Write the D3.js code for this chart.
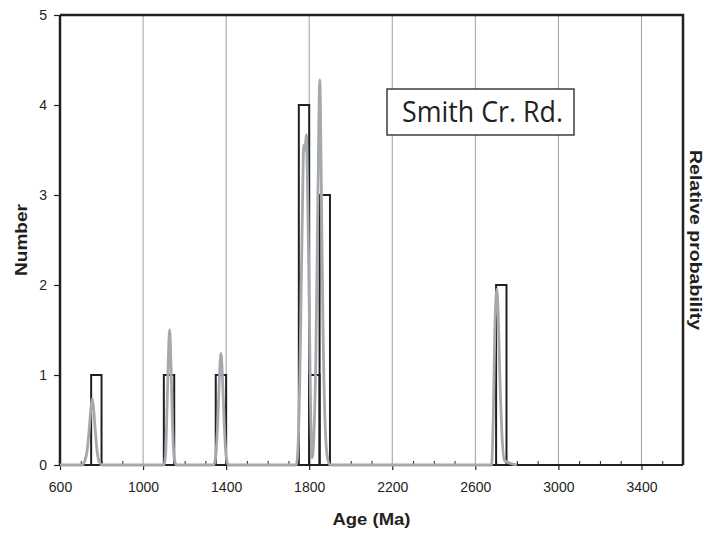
<!DOCTYPE html>
<html>
<head>
<meta charset="utf-8">
<script src="https://cdn.jsdelivr.net/npm/d3@7"></script>
<style>
    body { margin: 0; background: #fff; }
</style>
</head>
<body>
<svg id="chart" width="704" height="533"></svg>
<script>
// histogram bins (start age, Ma) and counts, bin width 50 Ma
const binStarts = [750, 1100, 1350, 1750, 1800, 1850, 2700];
const binCounts = [1, 1, 1, 4, 1, 3, 2];
const binWidth = 50;

// relative probability curve (in "Number" units)
const curveAges = [600, 705, 720, 730, 740, 748, 755, 762, 770, 780, 790, 805,
    1100, 1108, 1115, 1122, 1128, 1134, 1141, 1150, 1160,
    1340, 1350, 1360, 1368, 1375, 1382, 1390, 1400, 1410,
    1738, 1748, 1758, 1767, 1774, 1780, 1786, 1792, 1800, 1807, 1814,
    1822, 1832, 1842, 1851, 1858, 1866, 1876, 1888, 1900,
    2678, 2686, 2694, 2703, 2710, 2718, 2728, 2740, 2800];
const curveValues = [0, 0, 0.05, 0.15, 0.38, 0.6, 0.74, 0.62, 0.38, 0.13, 0.03, 0,
    0, 0.1, 0.6, 1.2, 1.5, 1.15, 0.5, 0.08, 0,
    0, 0.1, 0.5, 1.0, 1.24, 1.0, 0.5, 0.1, 0,
    0, 0.3, 1.4, 2.8, 3.55, 3.5, 3.67, 3.1, 1.8, 0.6, 0.08,
    0.3, 1.2, 3.0, 4.28, 3.2, 1.6, 0.5, 0.08, 0,
    0, 0.5, 1.5, 1.95, 1.7, 1.0, 0.35, 0.05, 0];

const xMajorTicks = [600, 1000, 1400, 1800, 2200, 2600, 3000, 3400];
const gridAges = [1000, 1400, 1800, 2200, 2600, 3000, 3400];
const yTicks = [0, 1, 2, 3, 4, 5];
const title = 'Smith Cr. Rd.';

const margin = { top: 15, left: 60, bottom: 68, right: 21 };
const width = 704;
const height = 533;
const chartWidth = width - margin.left - margin.right;
const chartHeight = height - margin.top - margin.bottom;
const dark = '#231f20';
const sans = '"Liberation Sans", Arial, sans-serif';

const svg = d3.select('#chart');
svg.append('rect').attr('width', width).attr('height', height).attr('fill', '#fff');

const x = d3.scaleLinear().domain([600, 3600]).range([0, chartWidth]);
const y = d3.scaleLinear().domain([0, 5]).range([chartHeight, 0]);

const g = svg.append('g').attr('transform', `translate(${[margin.left, margin.top]})`);

// vertical grid
g.append('g')
    .selectAll('line')
    .data(gridAges)
    .join('line')
    .attr('x1', d => x(d))
    .attr('x2', d => x(d))
    .attr('y1', 0)
    .attr('y2', chartHeight)
    .attr('stroke', '#7a8894')
    .attr('stroke-width', 0.8);

// minor ticks every 100 Ma, pointing in
const minorTicks = d3.range(700, 3600, 100).filter(d => !xMajorTicks.includes(d));
g.append('g')
    .attr('transform', `translate(0, ${chartHeight})`)
    .call(d3.axisBottom(x).tickValues(minorTicks).tickSize(-4).tickFormat(''))
    .call(a => a.select('.domain').remove())
    .call(a => a.selectAll('line').attr('stroke', dark).attr('stroke-width', 1));

// major x axis
const xAxis = g.append('g')
    .attr('transform', `translate(0, ${chartHeight})`)
    .call(d3.axisBottom(x).tickValues(xMajorTicks).tickSize(5).tickPadding(12).tickFormat(d3.format('d')));
xAxis.select('.domain').attr('stroke', dark).attr('stroke-width', 2).attr('d', `M0,0H${chartWidth}`);
xAxis.selectAll('line').attr('stroke', dark).attr('stroke-width', 1.2);
xAxis.selectAll('text').attr('font-size', 14).attr('font-family', sans).attr('fill', dark);

// y axis
const yAxis = g.append('g')
    .call(d3.axisLeft(y).tickValues(yTicks).tickSize(6).tickPadding(7).tickFormat(d3.format('d')));
yAxis.select('.domain').attr('stroke', dark).attr('stroke-width', 2.5).attr('d', `M0,${chartHeight}V0`);
yAxis.selectAll('line').attr('stroke', dark).attr('stroke-width', 1.2);
yAxis.selectAll('text').attr('font-size', 14).attr('font-family', sans).attr('fill', dark);

// top and right frame
g.append('path')
    .attr('d', `M0,0H${chartWidth}V${chartHeight}`)
    .attr('fill', 'none')
    .attr('stroke', dark)
    .attr('stroke-width', 2.5);

// histogram bars
g.append('g')
    .selectAll('rect')
    .data(binStarts.map((s, i) => ({ start: s, count: binCounts[i] })))
    .join('rect')
    .attr('x', d => x(d.start))
    .attr('width', d => x(d.start + binWidth) - x(d.start))
    .attr('y', d => y(d.count))
    .attr('height', d => y(0) - y(d.count))
    .attr('fill', 'none')
    .attr('stroke', dark)
    .attr('stroke-width', 2);

// probability curve
const curve = curveAges.map((a, i) => ({ age: a, value: curveValues[i] }));
const line = d3.line()
    .x(d => x(d.age))
    .y(d => y(d.value))
    .curve(d3.curveMonotoneX);
g.append('path')
    .datum(curve)
    .attr('d', line)
    .attr('fill', 'none')
    .attr('stroke', '#a4a9ad')
    .attr('stroke-width', 2.8)
    .attr('stroke-linejoin', 'round');

// title box
const box = g.append('g').attr('transform', `translate(${[327, 74]})`);
box.append('rect')
    .attr('width', 187)
    .attr('height', 46)
    .attr('fill', '#fff')
    .attr('stroke', dark)
    .attr('stroke-width', 1.3);
box.append('text')
    .attr('x', 15)
    .attr('y', 33)
    .attr('fill', dark)
    .attr('font-family', '"Open Sans", "Noto Sans", sans-serif')
    .attr('font-size', 29)
    .attr('textLength', 161)
    .attr('lengthAdjust', 'spacingAndGlyphs')
    .text(title);

// axis titles
function axisTitle(transform, label, length) {
    svg.append('text')
        .attr('transform', transform)
        .attr('text-anchor', 'middle')
        .attr('font-family', sans)
        .attr('font-weight', 'bold')
        .attr('font-size', 17)
        .attr('fill', dark)
        .attr('textLength', length)
        .attr('lengthAdjust', 'spacingAndGlyphs')
        .text(label);
}

axisTitle(`translate(${[margin.left + chartWidth / 2, 525]})`, 'Age (Ma)', 78);
axisTitle(`translate(${[27, margin.top + chartHeight / 2]}) rotate(-90)`, 'Number', 72);
axisTitle(`translate(${[690, margin.top + chartHeight / 2]}) rotate(90)`, 'Relative probability', 180);
</script>
</body>
</html>
